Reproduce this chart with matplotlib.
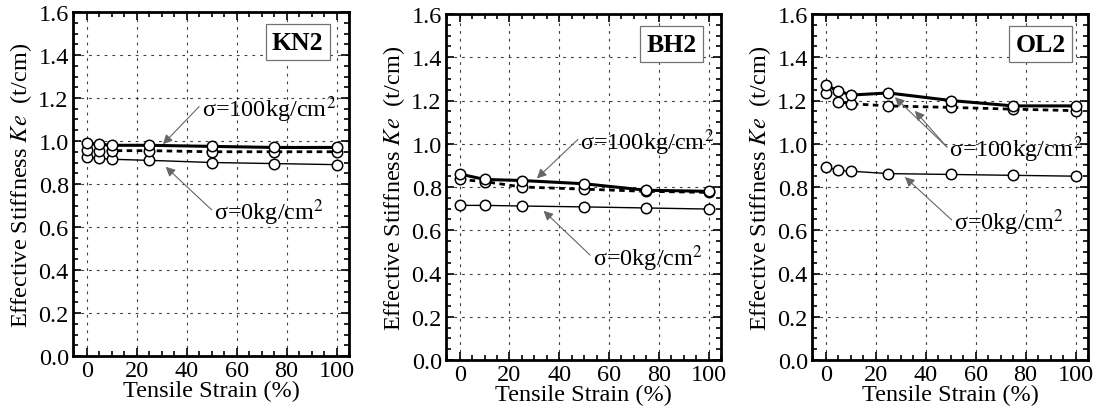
import matplotlib
matplotlib.use("Agg")
import matplotlib.pyplot as plt
from matplotlib.ticker import MultipleLocator

plt.rcParams['font.family'] = ['Liberation Serif', 'DejaVu Serif']
plt.rcParams['mathtext.fontset'] = 'stix'

# ---- data ----
kn2_x = [0, 5, 10, 25, 50, 75, 100]
kn2_s100_a = [0.99, 0.985, 0.98, 0.98, 0.975, 0.97, 0.97]
kn2_s100_b = [0.96, 0.955, 0.955, 0.955, 0.95, 0.95, 0.95]
kn2_s0 = [0.925, 0.92, 0.915, 0.91, 0.90, 0.895, 0.89]

bh2_x = [0, 10, 25, 50, 75, 100]
bh2_s100_a = [0.86, 0.835, 0.83, 0.815, 0.785, 0.78]
bh2_s100_b = [0.835, 0.825, 0.80, 0.79, 0.78, 0.775]
bh2_s0 = [0.715, 0.715, 0.712, 0.708, 0.703, 0.698]

ol2_x = [0, 5, 10, 25, 50, 75, 100]
ol2_s100_a = [1.27, 1.245, 1.225, 1.235, 1.20, 1.175, 1.175]
ol2_s100_b = [1.235, 1.195, 1.185, 1.175, 1.168, 1.16, 1.153]
ol2_s0 = [0.893, 0.877, 0.873, 0.862, 0.858, 0.854, 0.85]

names = ["KN2", "BH2", "OL2"]
lab100 = r"σ=100kg/cm$^2$"
lab0 = r"σ=0kg/cm$^2$"

fig = plt.figure(figsize=(10.96, 4.14), dpi=100)
rects = [
    [73/1096, (414-357)/414, 276/1096, 344/414],
    [446/1096, (414-361)/414, 275/1096, 346/414],
    [812/1096, (414-361)/414, 276/1096, 346/414],
]
datasets = [
    (kn2_x, kn2_s100_a, kn2_s100_b, kn2_s0),
    (bh2_x, bh2_s100_a, bh2_s100_b, bh2_s0),
    (ol2_x, ol2_s100_a, ol2_s100_b, ol2_s0),
]
# annotation geometry: (text xy, arrow heads), (text xy, arrow head)
ann100 = [
    ((46, 1.15), [(30.5, 0.985)]),
    ((48.5, 1.01), [(31, 0.84)]),
    ((49.5, 0.975), [(27.7, 1.215), (35.7, 1.152)]),
]
ann0 = [
    ((51, 0.67), (31.6, 0.88)),
    ((53.4, 0.475), (33.7, 0.69)),
    ((51.4, 0.638), (31.7, 0.846)),
]
boxpos = [(84.5, 1.46), (85, 1.46), (86, 1.46)]

fs = 17.5
mk = dict(marker='o', markersize=7.5, markerfacecolor='white',
          markeredgecolor='black', markeredgewidth=1.1)

for i, (rect, data) in enumerate(zip(rects, datasets)):
    ax = fig.add_axes(rect)
    x, a, b, c = data
    ax.plot(x, c, color='black', lw=1.0, zorder=3, **mk)
    ax.plot(x, b, color='black', lw=2.0, linestyle=(0, (2.0, 1.6)), zorder=4, **mk)
    ax.plot(x, a, color='black', lw=2.2, zorder=5, **mk)

    ax.set_xlim(-5.5, 105)
    ax.set_ylim(0, 1.6)
    ax.xaxis.set_major_locator(MultipleLocator(20))
    ax.xaxis.set_minor_locator(MultipleLocator(5))
    ax.yaxis.set_major_locator(MultipleLocator(0.2))
    ax.yaxis.set_minor_locator(MultipleLocator(0.05))
    ax.yaxis.set_major_formatter(matplotlib.ticker.FormatStrFormatter('%.1f'))
    ax.tick_params(which='both', direction='in', top=True, right=True,
                   labelsize=fs, width=1.2, pad=3)
    ax.tick_params(which='major', length=6)
    ax.tick_params(which='minor', length=3.5)
    ax.grid(True, which='major', color='black', lw=0.8,
            linestyle=(0, (2.5, 4.5)), alpha=0.75)
    for sp in ax.spines.values():
        sp.set_linewidth(2.0)

    ax.set_xlabel("Tensile Strain (%)", fontsize=fs, labelpad=-1)
    ax.set_ylabel(r"Effective Stiffness $\mathit{Ke}$  (t/cm)", fontsize=fs, labelpad=3)

    # sample box
    ax.text(boxpos[i][0], boxpos[i][1], names[i], fontsize=fs + 1,
            fontweight='bold', ha='center', va='center', zorder=6,
            bbox=dict(boxstyle='square,pad=0.25', facecolor='white',
                      edgecolor='0.45', lw=0.9))

    (tx, ty), heads = ann100[i]
    ax.text(tx, ty, lab100, fontsize=fs, ha='left', va='center', zorder=6)
    for hx, hy in heads:
        ax.annotate("", xy=(hx, hy), xytext=(tx - 1, ty + 0.01),
                    arrowprops=dict(arrowstyle='-|>', color='0.4', lw=0.8,
                                    mutation_scale=14, shrinkA=0, shrinkB=0),
                    zorder=6)
    (tx, ty), (hx, hy) = ann0[i]
    ax.text(tx, ty, lab0, fontsize=fs, ha='left', va='center', zorder=6)
    ax.annotate("", xy=(hx, hy), xytext=(tx - 1, ty + 0.01),
                arrowprops=dict(arrowstyle='-|>', color='0.4', lw=0.8,
                                mutation_scale=14, shrinkA=0, shrinkB=0),
                zorder=6)

fig.savefig("out.png", dpi=100)
